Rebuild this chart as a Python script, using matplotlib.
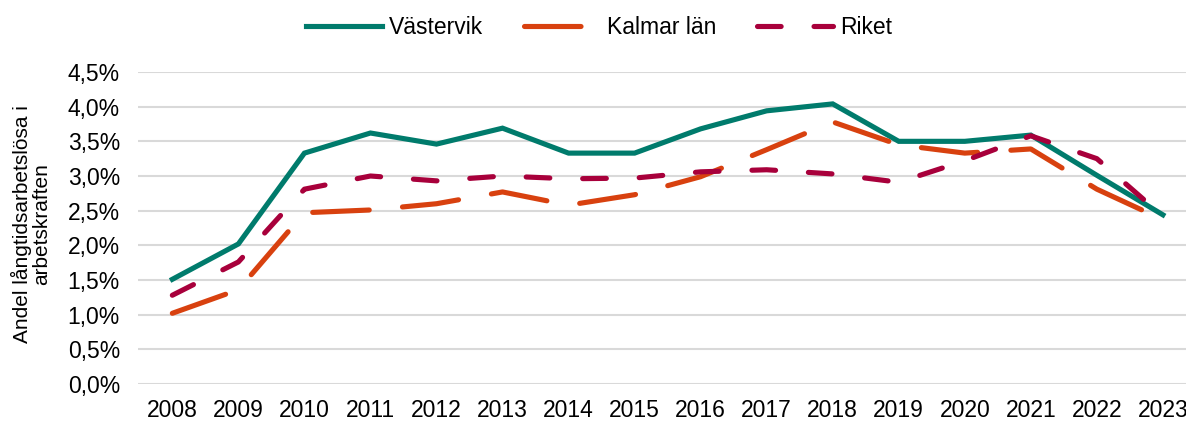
import matplotlib.pyplot as plt
from matplotlib.ticker import FuncFormatter

plt.rcParams['font.family'] = ['Liberation Sans', 'DejaVu Sans']

years = [str(y) for y in range(2008, 2024)]
vastervik = [1.51, 2.02, 3.33, 3.62, 3.46, 3.69, 3.33, 3.33, 3.68, 3.94, 4.04, 3.50, 3.50, 3.59, 3.01, 2.44]
kalmar = [1.02, 1.36, 2.47, 2.51, 2.60, 2.77, 2.58, 2.73, 2.99, 3.38, 3.78, 3.45, 3.33, 3.39, 2.81, 2.37]
riket = [1.28, 1.76, 2.81, 3.00, 2.93, 3.00, 2.96, 2.97, 3.06, 3.09, 3.03, 2.91, 3.22, 3.58, 3.25, 2.42]

c_green = '#007B6C'
c_orange = '#D8410F'
c_red = '#A8003B'

fig = plt.figure(figsize=(11.86, 4.23), dpi=100)
ax = fig.add_axes([138 / 1186, 1 - 384 / 423, 1 - 138 / 1186, 312 / 423])

x = list(range(len(years)))
lw = 3.7
ax.plot(x, vastervik, color=c_green, lw=lw, solid_joinstyle='miter', label='Västervik', zorder=3)
ax.plot(x, kalmar, color=c_orange, lw=lw, dashes=(11, 6.5), dash_capstyle='round', label='Kalmar län', zorder=3)
ax.plot(x, riket, color=c_red, lw=lw, dashes=(4.6, 6.4), dash_capstyle='round', label='Riket', zorder=3)

ax.set_ylim(0, 4.5)
ax.set_xlim(-0.52, 15.35)
ax.set_yticks([i * 0.5 for i in range(10)])
ax.yaxis.set_major_formatter(FuncFormatter(lambda v, p: f'{v:.1f}%'.replace('.', ',')))
ax.set_xticks(x)
ax.set_xticklabels(years)
ax.grid(axis='y', color='#D9D9D9', lw=1.5)
ax.set_axisbelow(True)
for s in ax.spines.values():
    s.set_visible(False)
ax.tick_params(length=0, labelsize=16.5, colors='black')
ax.tick_params(axis='y', pad=13)
ax.tick_params(axis='x', pad=11)

fig.text(0.026, 1 - 224 / 423, 'Andel långtidsarbetslösa i\narbetskraften', rotation=90,
         ha='center', va='center', fontsize=15, linespacing=1.0)

leg = fig.legend(loc='upper center', bbox_to_anchor=(0.505, 1.01), ncol=3, frameon=False,
                 fontsize=16.5, handlelength=3.3, columnspacing=1.8, handletextpad=0.3)

fig.savefig('out.png', dpi=100)
